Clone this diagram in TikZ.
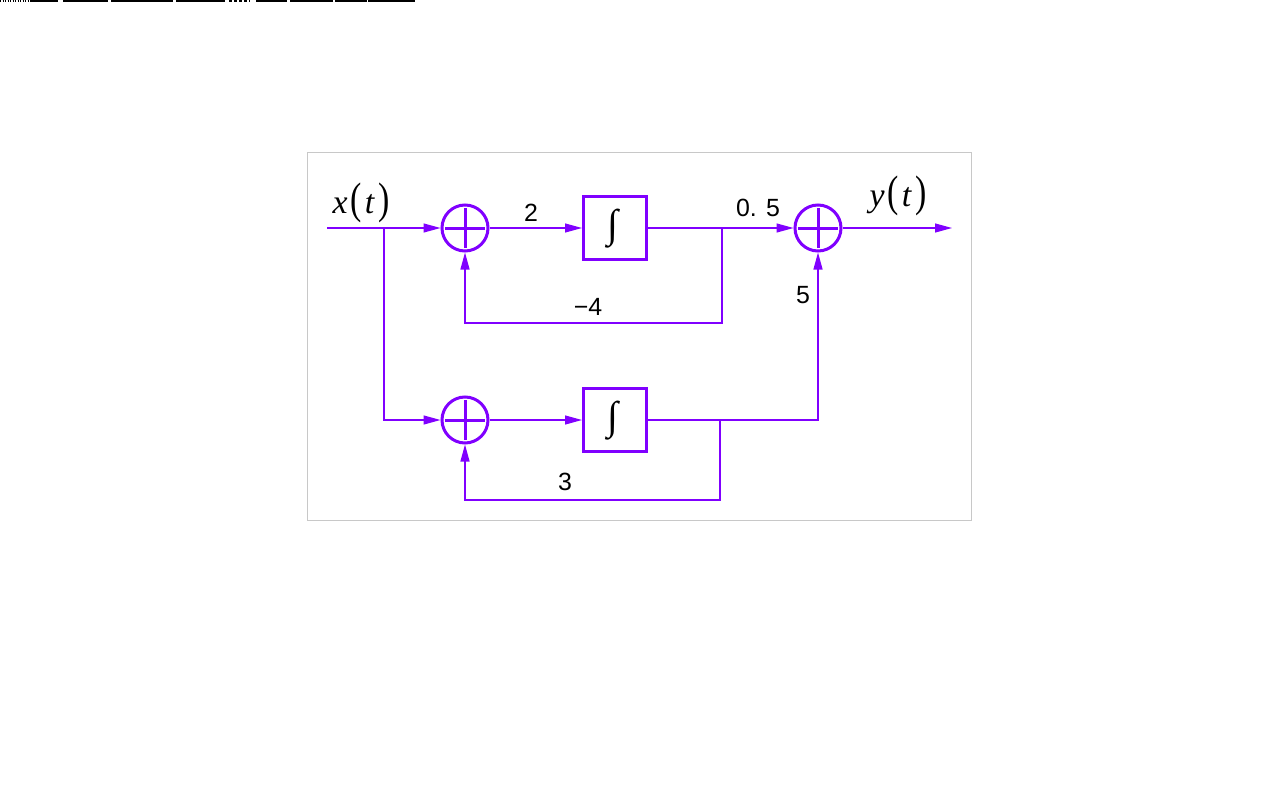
\documentclass[tikz,border=0pt]{standalone}
\usepackage{fontspec}
\setmainfont{Liberation Serif}
\newfontfamily\lsans{Liberation Sans}
\newfontfamily\lserif{Liberation Serif}
\usetikzlibrary{arrows.meta}
\definecolor{vio}{RGB}{128,0,255}
\definecolor{framegray}{RGB}{200,200,200}
\tikzset{
  wire/.style={draw=vio, line width=1.2bp},
  arr/.style={wire, -{Triangle[length=17bp,width=9bp]}},
  sumnode/.style={circle, draw=vio, line width=3bp, minimum size=46bp, inner sep=0pt,
    path picture={\draw[vio, line width=3bp] ([xshift=-20bp]path picture bounding box.center) -- ([xshift=20bp]path picture bounding box.center)
      ([yshift=-20bp]path picture bounding box.center) -- ([yshift=20bp]path picture bounding box.center);}},
  intbox/.style={rectangle, draw=vio, line width=3bp, minimum width=63bp, minimum height=63bp, inner sep=0pt},
  gain/.style={font=\lsans\fontsize{25}{28}\selectfont, inner sep=0pt},
  sig/.style={font=\lserif\fontsize{34}{38}\selectfont, inner sep=0pt},
  scratch/.style={draw=black, line width=2bp}
}
\newcommand{\sigtext}[1]{\textit{#1}\kern3bp\scalebox{1}[1.3]{(}\kern3bp\textit{t}\kern3bp\scalebox{1}[1.3]{)}}
\begin{document}
\begin{tikzpicture}[x=1bp, y=-1bp]
\useasboundingbox (0,0) rectangle (1280,800);
% scan artifact at the top edge
\draw[scratch, dash pattern=on 1bp off 1.5bp] (0,1) -- (31,1);
\draw[scratch] (31,1) -- (58,1) (63,1) -- (108,1) (111,1) -- (173,1) (176,1) -- (225,1)
  (256,1) -- (287,1) (290,1) -- (333,1) (335,1) -- (367,1) (368,1) -- (415,1);
\draw[scratch, dash pattern=on 3bp off 2bp] (229,1) -- (250,1);
\draw[framegray, line width=1bp] (307,152) rectangle (971,520);
% nodes
\node[sumnode] (s1) at (465,228) {};
\node[sumnode] (s2) at (465,420) {};
\node[sumnode] (s3) at (818,228) {};
\node[intbox] (b1) at (615,228) {};
\node[intbox] (b2) at (615,420) {};
\node[font=\lserif\fontsize{40}{44}\selectfont, inner sep=0pt] (i1) at (613,229) {∫};
\node[font=\lserif\fontsize{40}{44}\selectfont, inner sep=0pt] (i2) at (613,421) {∫};
\coordinate (in) at (327,228);
\coordinate (j1) at (384,228);
\coordinate (j2) at (722,228);
\coordinate (j3) at (720,420);
\coordinate (out) at (952,228);
\coordinate (f1) at (722,323);
\coordinate (f2) at (720,500);
\coordinate (c5) at (818,420);
% connectors
\draw[arr] (in) -- (s1);
\draw[arr] (s1) -- (b1);
\draw[arr] (b1) -- (s3);
\draw[arr] (s3) -- (out);
\draw[arr] (j2) -- (f1) -| (s1.south);
\draw[arr] (j1) |- (s2.west);
\draw[arr] (s2) -- (b2);
\draw[arr] (b2.east) -- (c5) -- (s3.south);
\draw[arr] (j3) -- (f2) -| (s2.south);
% labels
\node[sig] (xl) at (361,203) {\sigtext{x}};
\node[sig] (yl) at (898,196) {\sigtext{y}};
\node[gain] (g2) at (531,213) {2};
\node[gain] (g05) at (758,208) {0. 5};
\node[gain] (gm4) at (588,307) {−4};
\node[gain] (g5) at (803,295) {5};
\node[gain] (g3) at (565,482) {3};
\end{tikzpicture}
\end{document}
